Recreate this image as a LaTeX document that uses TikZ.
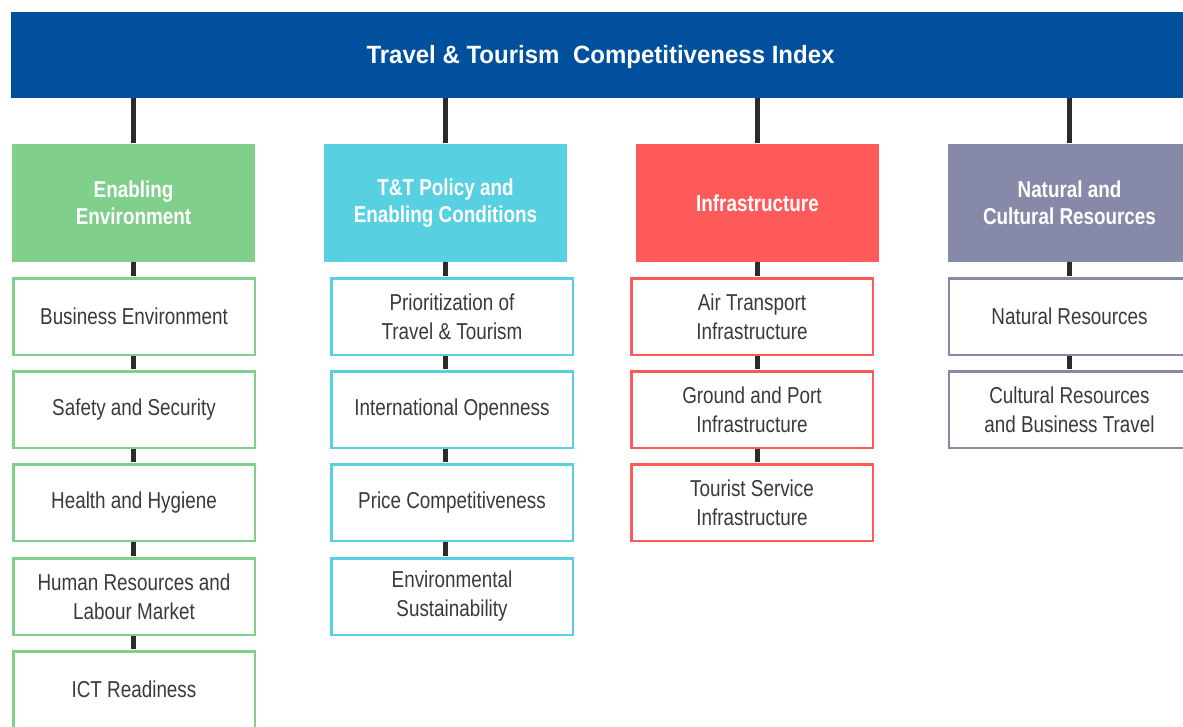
\documentclass[tikz,border=0pt]{standalone}
\usepackage{fontspec}
\setmainfont[FakeStretch=0.82]{Liberation Sans}
\newfontfamily\titlefont[FakeStretch=0.96]{Liberation Sans}
\definecolor{barc}{HTML}{00509E}
\definecolor{gc}{HTML}{80CF8B}
\definecolor{cc}{HTML}{57D1E1}
\definecolor{rc}{HTML}{FF5A5A}
\definecolor{pc}{HTML}{8789A9}
\definecolor{connc}{HTML}{2B2B2B}
\definecolor{txt}{HTML}{3A3A3A}
\begin{document}
\begin{tikzpicture}[x=1pt,y=-1pt,
  conn/.style={draw=connc,line width=5.5pt,shorten >=1pt,shorten <=-0.5pt},
  pillar/.style={fill=#1,draw=none,minimum width=243pt,minimum height=118pt,align=center,text=white,font=\fontsize{23}{27}\selectfont\bfseries,inner sep=0pt},
  sub/.style={draw=#1,line width=2.5pt,fill=white,minimum width=241.5pt,minimum height=76.5pt,align=center,text=txt,font=\fontsize{23}{29}\selectfont,inner sep=0pt},
]
\useasboundingbox (0,0) rectangle (1183,726);
\fill[white] (0,0) rectangle (1183,726);
\node[fill=barc,minimum width=1179pt,minimum height=86pt,inner sep=0pt,text height=17pt,text depth=1pt,text=white,font=\titlefont\fontsize{25}{30}\selectfont\bfseries] (bar) at (600.5,55) {Travel \& Tourism\; Competitiveness Index};

\node[pillar=gc] (p1) at (133.5,203) {Enabling\\Environment};
\node[pillar=cc] (p2) at (445.5,203) {T\&T Policy and\\Enabling Conditions};
\node[pillar=rc] (p3) at (757.5,203) {Infrastructure};
\node[pillar=pc] (p4) at (1069.5,203) {Natural and\\Cultural Resources};

\node[sub=gc] (s11) at (134,316.5) {Business Environment};
\node[sub=gc] (s12) at (134,409.5) {Safety and Security};
\node[sub=gc] (s13) at (134,502.5) {Health and Hygiene};
\node[sub=gc] (s14) at (134,596.5) {Human Resources and\\Labour Market};
\node[sub=gc] (s15) at (134,689.5) {ICT Readiness};

\node[sub=cc] (s21) at (452,316.5) {Prioritization of\\Travel \& Tourism};
\node[sub=cc] (s22) at (452,409.5) {International Openness};
\node[sub=cc] (s23) at (452,502.5) {Price Competitiveness};
\node[sub=cc] (s24) at (452,596.5) {Environmental\\Sustainability};

\node[sub=rc] (s31) at (752,316.5) {Air Transport\\Infrastructure};
\node[sub=rc] (s32) at (752,409.5) {Ground and Port\\Infrastructure};
\node[sub=rc] (s33) at (752,502.5) {Tourist Service\\Infrastructure};

\node[sub=pc] (s41) at (1069.5,316.5) {Natural Resources};
\node[sub=pc] (s42) at (1069.5,409.5) {Cultural Resources\\and Business Travel};

\foreach \p in {p1,p2,p3,p4}
  \draw[conn] (bar.south -| \p.north) -- (\p.north);

\draw[conn] (p1.south) -- (p1.south |- s11.north);
\draw[conn] (p1.south |- s11.south) -- (p1.south |- s12.north);
\draw[conn] (p1.south |- s12.south) -- (p1.south |- s13.north);
\draw[conn] (p1.south |- s13.south) -- (p1.south |- s14.north);
\draw[conn] (p1.south |- s14.south) -- (p1.south |- s15.north);

\draw[conn] (p2.south) -- (p2.south |- s21.north);
\draw[conn] (p2.south |- s21.south) -- (p2.south |- s22.north);
\draw[conn] (p2.south |- s22.south) -- (p2.south |- s23.north);
\draw[conn] (p2.south |- s23.south) -- (p2.south |- s24.north);

\draw[conn] (p3.south) -- (p3.south |- s31.north);
\draw[conn] (p3.south |- s31.south) -- (p3.south |- s32.north);
\draw[conn] (p3.south |- s32.south) -- (p3.south |- s33.north);

\draw[conn] (p4.south) -- (p4.south |- s41.north);
\draw[conn] (p4.south |- s41.south) -- (p4.south |- s42.north);
\end{tikzpicture}
\end{document}
